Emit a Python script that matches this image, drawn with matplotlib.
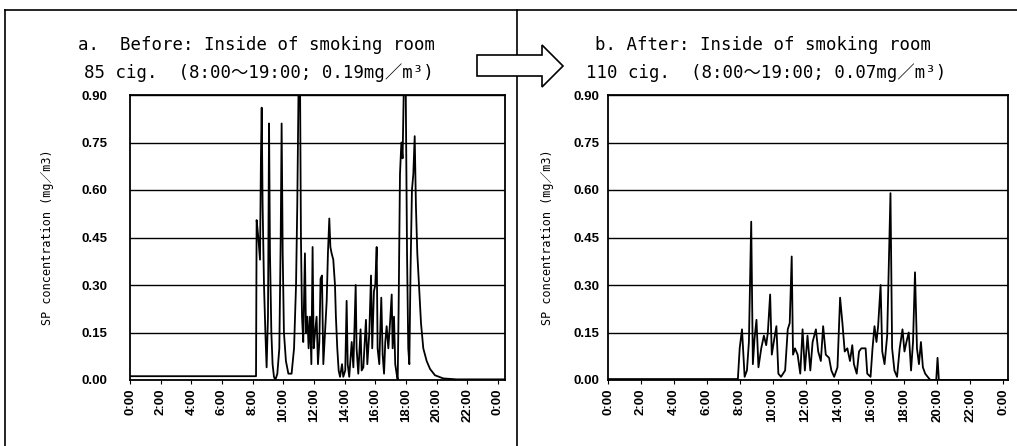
import matplotlib
matplotlib.use("Agg")
import matplotlib.pyplot as plt
from matplotlib.patches import Polygon
from matplotlib.lines import Line2D

# ---------------- data ----------------
hours_a = [0.00, 8.22, 8.26, 8.37, 8.48, 8.54, 8.59, 8.65, 8.74, 8.83, 8.91, 9.00, 9.07, 9.13,
           9.22, 9.30, 9.39, 9.48, 9.61, 9.74, 9.83, 9.89, 9.96, 10.04, 10.17, 10.33, 10.54,
           10.70, 10.83, 10.91, 11.00, 11.09, 11.15, 11.22, 11.30, 11.41, 11.48, 11.57, 11.65,
           11.74, 11.83, 11.91, 11.98, 12.07, 12.17, 12.26, 12.35, 12.43, 12.52, 12.61, 12.72,
           12.83, 12.91, 13.00, 13.07, 13.15, 13.26, 13.37, 13.43, 13.52, 13.61, 13.70, 13.83,
           13.91, 14.04, 14.13, 14.20, 14.30, 14.46, 14.57, 14.72, 14.78, 14.89, 15.04, 15.11,
           15.22, 15.39, 15.48, 15.61, 15.72, 15.80, 15.91, 16.00, 16.09, 16.15, 16.26, 16.39,
           16.48, 16.57, 16.65, 16.74, 16.85, 16.96, 17.07, 17.13, 17.22, 17.30, 17.39, 17.46,
           17.52, 17.61, 17.70, 17.78, 17.87, 17.98, 18.07, 18.15, 18.22, 18.30, 18.39, 18.48,
           18.57, 18.65, 18.74, 18.85, 18.98, 19.13, 19.35, 19.57, 19.89, 20.43, 21.30, 24.46]
sp_a = [0.012, 0.012, 0.505, 0.45, 0.38, 0.70, 0.86, 0.55, 0.30, 0.15, 0.04, 0.20, 0.81, 0.40,
        0.15, 0.05, 0.01, 0.00, 0.02, 0.10, 0.45, 0.81, 0.40, 0.15, 0.06, 0.02, 0.02,
        0.10, 0.30, 0.55, 0.95, 0.95, 0.45, 0.20, 0.12, 0.40, 0.15, 0.20, 0.10,
        0.20, 0.05, 0.42, 0.10, 0.15, 0.20, 0.05, 0.12, 0.32, 0.33, 0.05, 0.15,
        0.25, 0.40, 0.51, 0.42, 0.40, 0.38, 0.30, 0.20, 0.10, 0.03, 0.01, 0.05,
        0.01, 0.03, 0.25, 0.05, 0.01, 0.12, 0.04, 0.30, 0.10, 0.02, 0.16, 0.03,
        0.04, 0.19, 0.05, 0.15, 0.33, 0.10, 0.28, 0.30, 0.42, 0.10, 0.05, 0.26,
        0.08, 0.02, 0.12, 0.17, 0.10, 0.18, 0.27, 0.10, 0.20, 0.05, 0.02, 0.00,
        0.22, 0.65, 0.75, 0.70, 0.95, 0.95, 0.40, 0.10, 0.05, 0.35, 0.60, 0.65,
        0.77, 0.55, 0.40, 0.30, 0.18, 0.10, 0.06, 0.035, 0.015, 0.005, 0.002, 0.002]

hours_b = [0.00, 7.89, 8.00, 8.14, 8.30, 8.44, 8.56, 8.70, 8.80, 8.90, 9.02, 9.14, 9.31, 9.47,
           9.61, 9.71, 9.85, 9.95, 10.07, 10.23, 10.35, 10.51, 10.76, 10.92, 11.04, 11.16,
           11.24, 11.36, 11.52, 11.68, 11.82, 11.96, 12.12, 12.29, 12.43, 12.63, 12.77, 12.93,
           13.07, 13.23, 13.43, 13.57, 13.74, 13.94, 14.10, 14.24, 14.38, 14.54, 14.70, 14.84,
           14.94, 15.11, 15.25, 15.39, 15.51, 15.65, 15.75, 15.95, 16.07, 16.19, 16.31, 16.41,
           16.56, 16.66, 16.80, 16.96, 17.16, 17.26, 17.40, 17.56, 17.72, 17.89, 18.01, 18.13,
           18.27, 18.41, 18.53, 18.65, 18.77, 18.89, 19.01, 19.13, 19.27, 19.42, 19.58, 19.94,
           20.02, 20.10, 24.30]
sp_b = [0.003, 0.003, 0.10, 0.16, 0.01, 0.03, 0.12, 0.50, 0.05, 0.13, 0.19, 0.04, 0.10, 0.14,
        0.11, 0.15, 0.27, 0.08, 0.12, 0.17, 0.02, 0.01, 0.03, 0.16, 0.18, 0.39,
        0.08, 0.10, 0.08, 0.02, 0.16, 0.03, 0.14, 0.03, 0.12, 0.16, 0.09, 0.06,
        0.17, 0.08, 0.07, 0.03, 0.01, 0.04, 0.26, 0.18, 0.09, 0.10, 0.06, 0.11,
        0.05, 0.02, 0.09, 0.10, 0.10, 0.10, 0.02, 0.01, 0.10, 0.17, 0.12, 0.17,
        0.30, 0.09, 0.05, 0.14, 0.59, 0.10, 0.03, 0.01, 0.10, 0.16, 0.09, 0.12,
        0.15, 0.03, 0.12, 0.34, 0.10, 0.05, 0.12, 0.04, 0.02, 0.01, 0.00, 0.00,
        0.07, 0.00, 0.00]

tick_hours = [0, 2, 4, 6, 8, 10, 12, 14, 16, 18, 20, 22, 24]
tick_labels = ["0:00", "2:00", "4:00", "6:00", "8:00", "10:00", "12:00", "14:00",
               "16:00", "18:00", "20:00", "22:00", "0:00"]
y_ticks = [0.00, 0.15, 0.30, 0.45, 0.60, 0.75, 0.90]
y_labels = ["0.00", "0.15", "0.30", "0.45", "0.60", "0.75", "0.90"]

titles_a = ["a.  Before: Inside of smoking room", "85 cig.  (8:00～19:00; 0.19mg／m³)"]
titles_b = ["b. After: Inside of smoking room", "110 cig.  (8:00～19:00; 0.07mg／m³)"]
ylabel = "SP concentration (mg／m3)"

# ---------------- figure ----------------
W, H = 1017, 446
fig = plt.figure(figsize=(W / 100, H / 100), dpi=100)
fig.patch.set_facecolor("white")

def fx(px):
    return px / W

def fy(py):
    return 1 - py / H

title_font = ["DejaVu Sans Mono", "Noto Sans CJK JP"]
tick_font = ["Liberation Sans", "DejaVu Sans"]

def make_panel(left_px, right_px, hours, vals, xmax, ylab_x, ypad):
    ax = fig.add_axes([fx(left_px), fy(380), fx(right_px - left_px), (380 - 95) / H])
    ax.plot(hours, vals, color="black", lw=1.3)
    ax.set_xlim(0, xmax)
    ax.set_ylim(0, 0.9)
    ax.set_yticks(y_ticks)
    ax.set_yticklabels(y_labels, fontsize=9.5, family=tick_font, fontweight="bold")
    ax.set_xticks(tick_hours)
    ax.set_xticklabels(tick_labels, rotation=90, fontsize=9.5, family=tick_font,
                       fontweight="bold")
    ax.tick_params(axis="y", length=0, pad=ypad)
    ax.tick_params(axis="x", length=3, direction="out", pad=3)
    ax.grid(axis="y", color="black", lw=1.0)
    ax.set_axisbelow(True)
    for s in ax.spines.values():
        s.set_linewidth(1.3)
        s.set_color("black")
    fig.text(fx(ylab_x), fy(237), ylabel, rotation=90, ha="center", va="center",
             fontsize=8.5, family=title_font)
    return ax

make_panel(130, 505, hours_a, sp_a, 24.46, 48, 16)
make_panel(608, 1008, hours_b, sp_b, 24.3, 548, 6)

# titles
fig.text(fx(78), fy(45), titles_a[0], fontsize=12.5, family=title_font, va="center", ha="left")
fig.text(fx(84), fy(73), titles_a[1], fontsize=12.5, family=title_font, va="center", ha="left")
fig.text(fx(595), fy(45), titles_b[0], fontsize=12.5, family=title_font, va="center", ha="left")
fig.text(fx(586), fy(73), titles_b[1], fontsize=12.5, family=title_font, va="center", ha="left")

# frame lines
for l in [Line2D([fx(5), fx(5)], [fy(10), fy(446)]),
          Line2D([fx(5), fx(1017)], [fy(10), fy(10)]),
          Line2D([fx(517), fx(517)], [fy(10), fy(446)])]:
    l.set_color("black")
    l.set_linewidth(1.2)
    l.set_transform(fig.transFigure)
    fig.add_artist(l)

# block arrow
arrow_px = [(477, 55), (542, 55), (542, 45), (563, 66), (542, 87), (542, 76), (477, 76)]
arrow = Polygon([(fx(x), fy(y)) for x, y in arrow_px], closed=True, facecolor="white",
                edgecolor="black", lw=1.2, transform=fig.transFigure, zorder=10)
fig.add_artist(arrow)

fig.savefig("out.png", dpi=100, facecolor="white")
